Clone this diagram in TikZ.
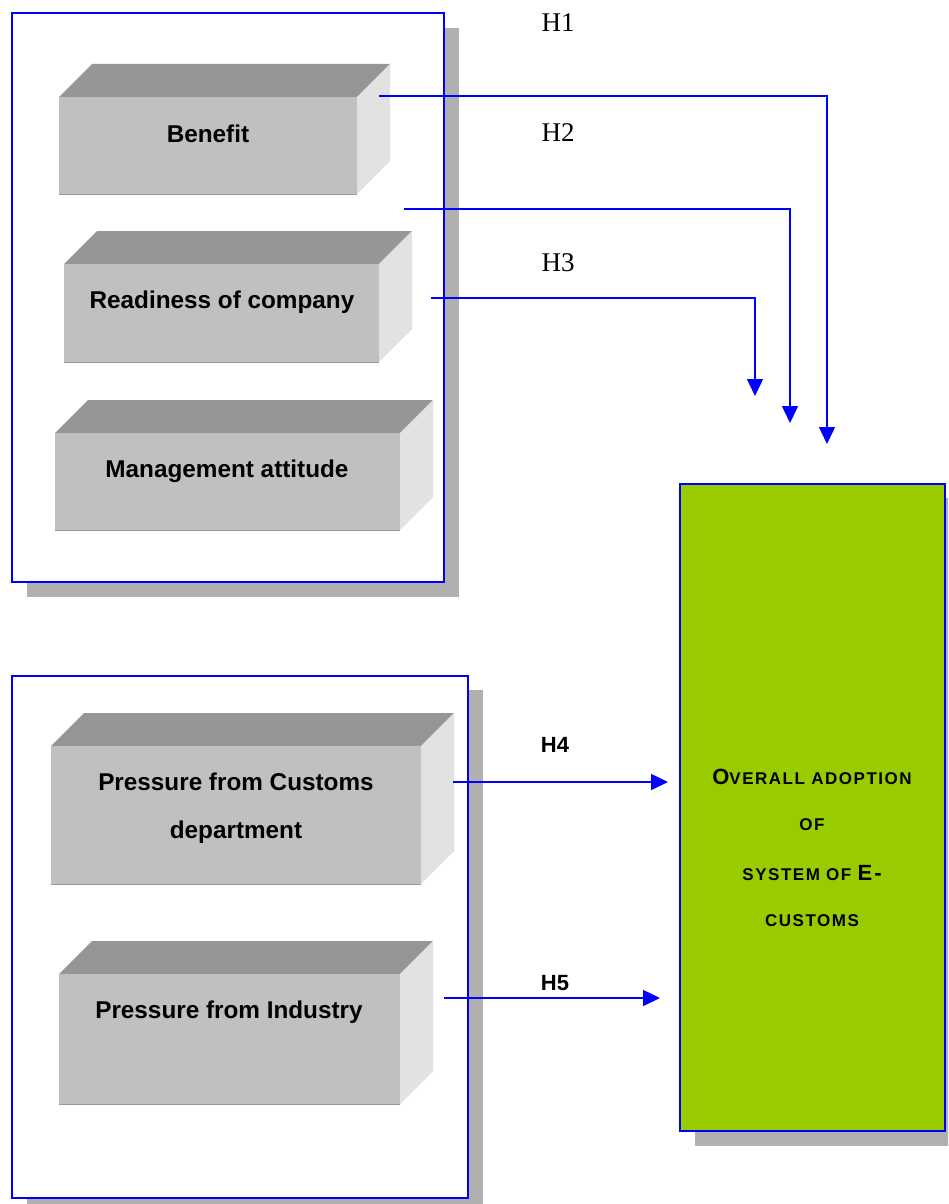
\documentclass[tikz,border=0pt]{standalone}
\usepackage{fontspec}
\setmainfont{Liberation Serif}
\newfontfamily\arialf{Liberation Sans}
\newfontfamily\arialsp{Liberation Sans}[LetterSpace=9]
\usetikzlibrary{arrows.meta}
\definecolor{frontc}{HTML}{C0C0C0}
\definecolor{topc}{HTML}{969696}
\definecolor{sidec}{HTML}{E2E2E2}
\definecolor{shadowc}{HTML}{B0B0B0}
\definecolor{greenc}{HTML}{99CC00}
\definecolor{bluec}{HTML}{0000FF}
\newcommand\bigsc[2]{{\fontsize{22}{24}\selectfont #1}{\fontsize{17}{24}\selectfont #2}}
% name, x1, y1, x2, y2
\newcommand\cubebox[5]{%
  \fill[topc] (#2,#3) -- ({#2+33},{#3-33}) -- ({#4+33},{#3-33}) -- (#4,#3) -- cycle;
  \fill[sidec] (#4,#3) -- ({#4+33},{#3-33}) -- ({#4+33},{#5-33}) -- (#4,#5) -- cycle;
  \fill[frontc] (#2,#3) rectangle (#4,#5);
  \draw[gray!80, line width=1pt] (#2,#5) -- (#4,#5);
  \coordinate (#1) at ({(#2+#4)/2},{(#3+#5)/2});
}
\begin{document}
\begin{tikzpicture}[x=1pt,y=-1pt,
  frame/.style={draw=bluec, line width=2pt, fill=white},
  shadow/.style={fill=shadowc},
  boxtext/.style={font=\arialf\bfseries\fontsize{24.3}{48}\selectfont, align=center, inner sep=0pt},
  conn/.style={draw=bluec, line width=1.5pt, -{Triangle[length=17pt,width=16pt]}},
  hlab/.style={font=\fontsize{27}{30}\selectfont, inner sep=0pt},
  hlabb/.style={font=\arialf\bfseries\fontsize{22}{24}\selectfont, inner sep=0pt},
  gtext/.style={font=\arialsp\bfseries, align=center, inner sep=0pt}]
\useasboundingbox (0,0) rectangle (948,1204);
\clip (0,0) rectangle (948,1204);

% top group
\fill[shadow] (27,28) rectangle (459,597);
\node[frame, minimum width=432pt, minimum height=569pt, anchor=north west] (topframe) at (11,12) {};
\cubebox{benefit}{59}{97}{357}{194}
\cubebox{readiness}{64}{264}{379}{362}
\cubebox{mgmt}{55}{433}{400}{530}
\node[boxtext] (benefit-t) at (208,134) {Benefit};
\node[boxtext] (readiness-t) at (222,302) {Readiness of company};
\node[boxtext] (mgmt-t) at (227,471) {Management attitude};

% bottom group
\fill[shadow] (27,690) rectangle (483,1214);
\node[frame, minimum width=456pt, minimum height=522pt, anchor=north west] (botframe) at (11,675) {};
\cubebox{customs}{51}{746}{421}{884}
\cubebox{industry}{59}{974}{400}{1104}
\node[boxtext] (customs-t) at (236,808) {Pressure from Customs\\department};
\node[boxtext] (industry-t) at (229,1012) {Pressure from Industry};

% target
\fill[shadow] (695,498) rectangle (960,1146);
\node[draw=bluec, line width=1.5pt, fill=greenc, minimum width=265pt, minimum height=647pt, anchor=north west] (adopt) at (679,483) {};
\node[gtext] (adopt-t) at (812,848) {%
  \bigsc{O}{VERALL ADOPTION}\\[33pt]
  \bigsc{}{OF}\\[33pt]
  \bigsc{}{SYSTEM OF }\bigsc{E-}{}\\[33pt]
  \bigsc{}{CUSTOMS}};

% connectors
\coordinate (s1) at (379,96);
\coordinate (s2) at (404,209);
\coordinate (s3) at (431,298);
\coordinate (s4) at (453,782);
\coordinate (s5) at (444,998);
\coordinate (e1) at (827,444);
\coordinate (e2) at (790,423);
\coordinate (e3) at (755,396);
\coordinate (e4) at (668,782);
\coordinate (e5) at (660,998);
\draw[conn] (s1) -| (e1);
\draw[conn] (s2) -| (e2);
\draw[conn] (s3) -| (e3);
\draw[conn] (s4) -- (e4);
\draw[conn] (s5) -- (e5);

\node[hlab] (h1) at (558,23) {H1};
\node[hlab] (h2) at (558,133) {H2};
\node[hlab] (h3) at (558,263) {H3};
\node[hlabb] (h4) at (555,745) {H4};
\node[hlabb] (h5) at (555,983) {H5};
\end{tikzpicture}
\end{document}
